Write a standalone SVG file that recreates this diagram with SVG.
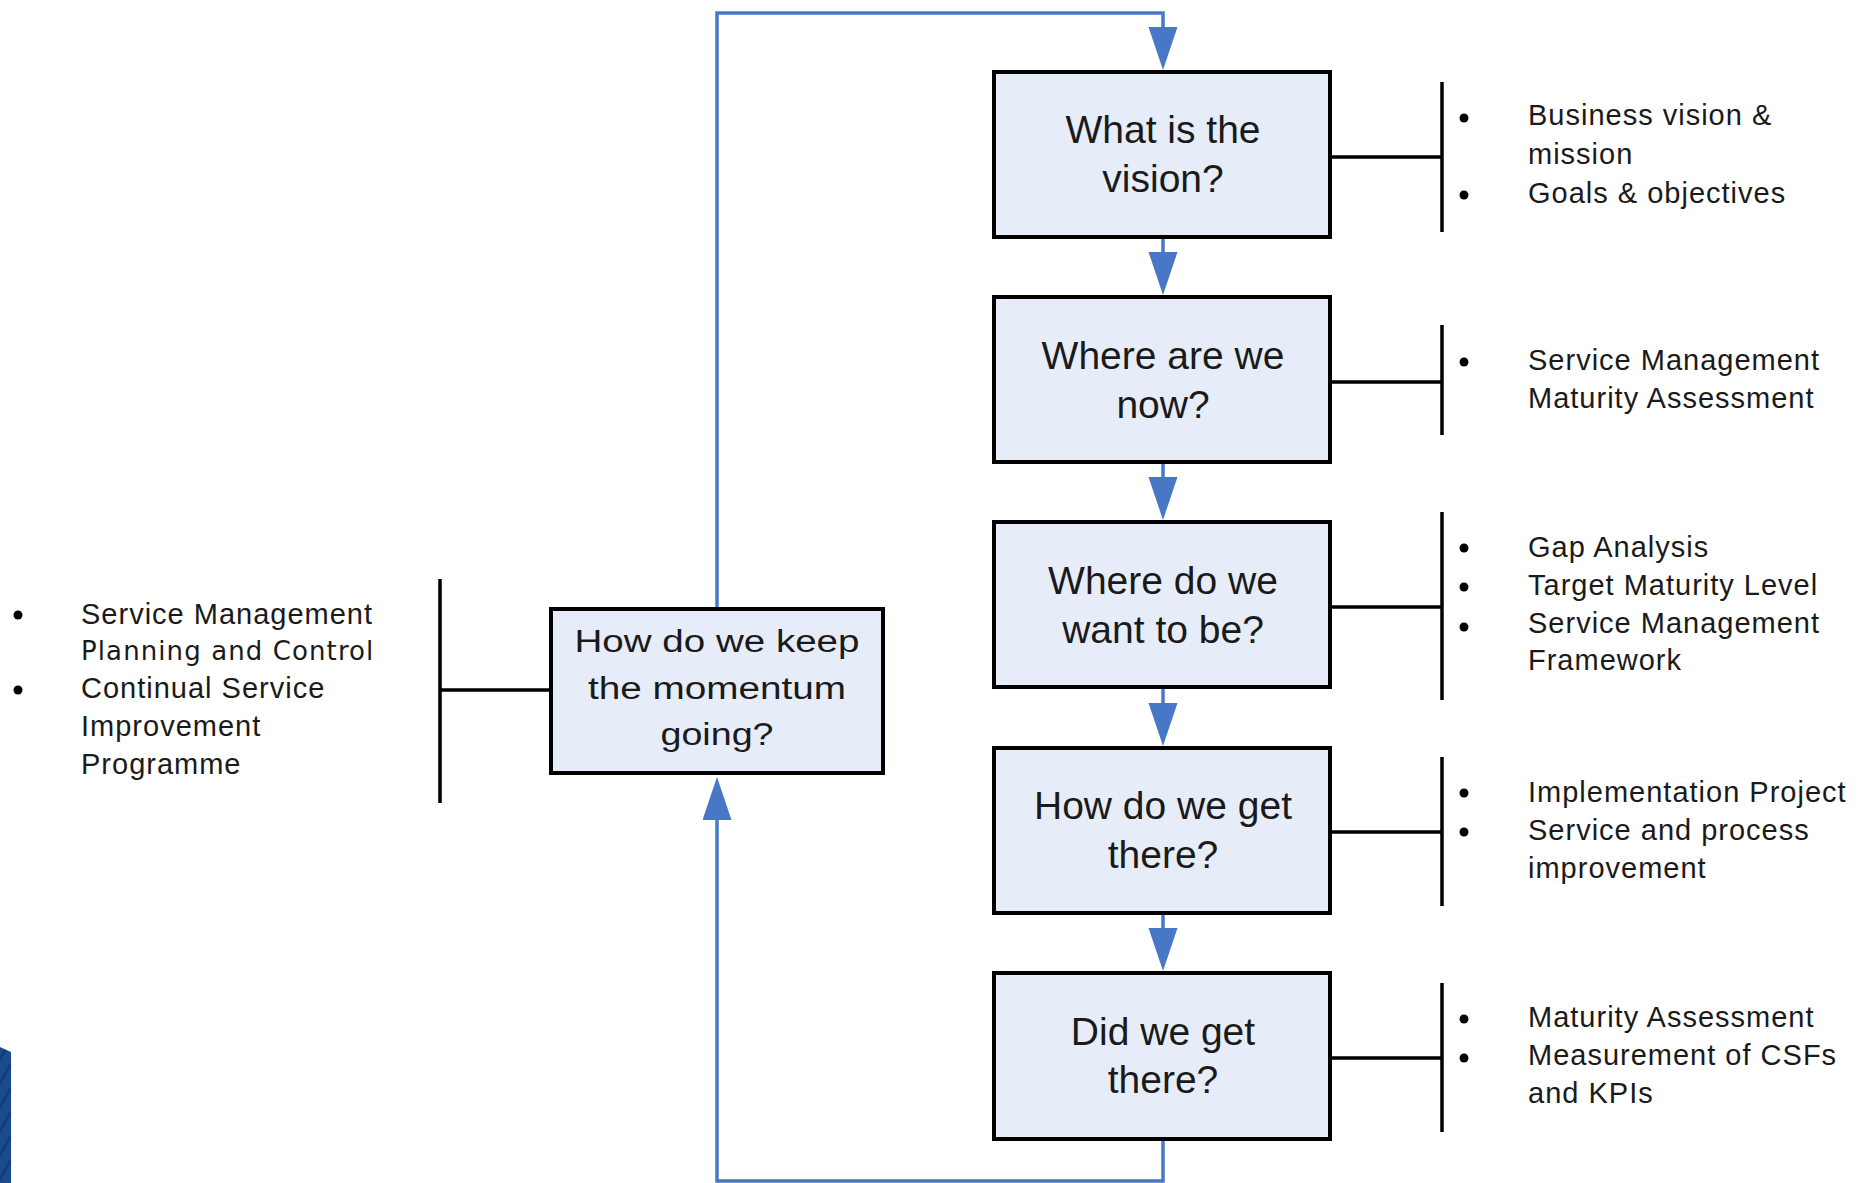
<svg xmlns="http://www.w3.org/2000/svg" width="1869" height="1183" viewBox="0 0 1869 1183">
<style>
.box{fill:#e7edf8;stroke:#000;stroke-width:4}
.bt{font-family:"Liberation Sans",Arial,sans-serif;font-size:39px;fill:#1a1a1a;text-anchor:middle}
.lt{font-family:"Liberation Sans",Arial,sans-serif;font-size:29px;fill:#1a1a1a;letter-spacing:1px}
.flow{fill:none;stroke:#4878c5;stroke-width:3.5;marker-end:url(#ah)}
.br{fill:none;stroke:#000;stroke-width:3.5}
.dot{fill:#000}
</style>
<defs>
<marker id="ah" markerUnits="userSpaceOnUse" markerWidth="44" markerHeight="30" refX="35" refY="14.5" orient="auto">
<polygon points="0,0 43,14.5 0,29" fill="#4878c5"/>
</marker>
<pattern id="stripes" patternUnits="userSpaceOnUse" width="12" height="12" patternTransform="rotate(30)">
<rect width="12" height="12" fill="#1b4c8f"/>
<rect width="3" height="12" fill="#143d75"/>
</pattern>
</defs>
<rect width="1869" height="1183" fill="#fff"/>
<polygon points="0,1047 11,1052 11,1183 0,1183" fill="url(#stripes)"/>

<g id="connectors">
<path class="flow" d="M717,607 V13 H1163 V62"/>
<path class="flow" d="M1163,239 V287"/>
<path class="flow" d="M1163,464 V512"/>
<path class="flow" d="M1163,689 V738"/>
<path class="flow" d="M1163,914 V963"/>
<path class="flow" d="M1163,1141 V1181 H717 V785"/>
<path class="br" d="M1332,157 H1442 M1442,82 V232"/>
<path class="br" d="M1332,382 H1442 M1442,325 V435"/>
<path class="br" d="M1332,607 H1442 M1442,512 V700"/>
<path class="br" d="M1332,832 H1442 M1442,757 V906"/>
<path class="br" d="M1332,1058 H1442 M1442,983 V1132"/>
<path class="br" d="M440,690 H549 M440,579 V803"/>
</g>

<g id="node-vision">
<rect class="box" x="994" y="72" width="336" height="165"/>
<text class="bt" x="1163" y="143">What is the</text>
<text class="bt" x="1163" y="192">vision?</text>
</g>
<g id="node-now">
<rect class="box" x="994" y="297" width="336" height="165"/>
<text class="bt" x="1163" y="368.5">Where are we</text>
<text class="bt" x="1163" y="417.5">now?</text>
</g>
<g id="node-want">
<rect class="box" x="994" y="522" width="336" height="165"/>
<text class="bt" x="1163" y="593.5">Where do we</text>
<text class="bt" x="1163" y="642.5">want to be?</text>
</g>
<g id="node-getthere">
<rect class="box" x="994" y="748" width="336" height="165"/>
<text class="bt" x="1163" y="819">How do we get</text>
<text class="bt" x="1163" y="868">there?</text>
</g>
<g id="node-didwe">
<rect class="box" x="994" y="973" width="336" height="166"/>
<text class="bt" x="1163" y="1045">Did we get</text>
<text class="bt" x="1163" y="1093">there?</text>
</g>
<g id="node-momentum">
<rect class="box" x="551" y="609" width="332" height="164"/>
<text class="bt" style="font-size:31px" x="717" y="652" textLength="285" lengthAdjust="spacingAndGlyphs">How do we keep</text>
<text class="bt" style="font-size:31px" x="717" y="698.5" textLength="258" lengthAdjust="spacingAndGlyphs">the momentum</text>
<text class="bt" style="font-size:31px" x="717" y="745" textLength="113" lengthAdjust="spacingAndGlyphs">going?</text>
</g>

<g id="notes-vision">
<circle class="dot" cx="1464" cy="118" r="4.5"/>
<circle class="dot" cx="1464" cy="195" r="4.5"/>
<text class="lt" x="1528" y="125">Business vision &amp;</text>
<text class="lt" x="1528" y="164">mission</text>
<text class="lt" x="1528" y="203">Goals &amp; objectives</text>
</g>
<g id="notes-now">
<circle class="dot" cx="1464" cy="362" r="4.5"/>
<text class="lt" x="1528" y="370">Service Management</text>
<text class="lt" x="1528" y="408">Maturity Assessment</text>
</g>
<g id="notes-want">
<circle class="dot" cx="1464" cy="548" r="4.5"/>
<circle class="dot" cx="1464" cy="587" r="4.5"/>
<circle class="dot" cx="1464" cy="627" r="4.5"/>
<text class="lt" x="1528" y="557">Gap Analysis</text>
<text class="lt" x="1528" y="595">Target Maturity Level</text>
<text class="lt" x="1528" y="633">Service Management</text>
<text class="lt" x="1528" y="670">Framework</text>
</g>
<g id="notes-getthere">
<circle class="dot" cx="1464" cy="793" r="4.5"/>
<circle class="dot" cx="1464" cy="832" r="4.5"/>
<text class="lt" x="1528" y="802">Implementation Project</text>
<text class="lt" x="1528" y="840">Service and process</text>
<text class="lt" x="1528" y="878">improvement</text>
</g>
<g id="notes-didwe">
<circle class="dot" cx="1464" cy="1019" r="4.5"/>
<circle class="dot" cx="1464" cy="1058" r="4.5"/>
<text class="lt" x="1528" y="1027">Maturity Assessment</text>
<text class="lt" x="1528" y="1065">Measurement of CSFs</text>
<text class="lt" x="1528" y="1103">and KPIs</text>
</g>
<g id="notes-momentum">
<circle class="dot" cx="18" cy="615" r="4.5"/>
<circle class="dot" cx="18" cy="690" r="4.5"/>
<text class="lt" x="81" y="624">Service Management</text>
<text class="lt" x="81" y="660" style="font-family:'DejaVu Sans',sans-serif;font-size:26px;letter-spacing:1.1px">Planning and Control</text>
<text class="lt" x="81" y="698">Continual Service</text>
<text class="lt" x="81" y="736">Improvement</text>
<text class="lt" x="81" y="774">Programme</text>
</g>
</svg>
